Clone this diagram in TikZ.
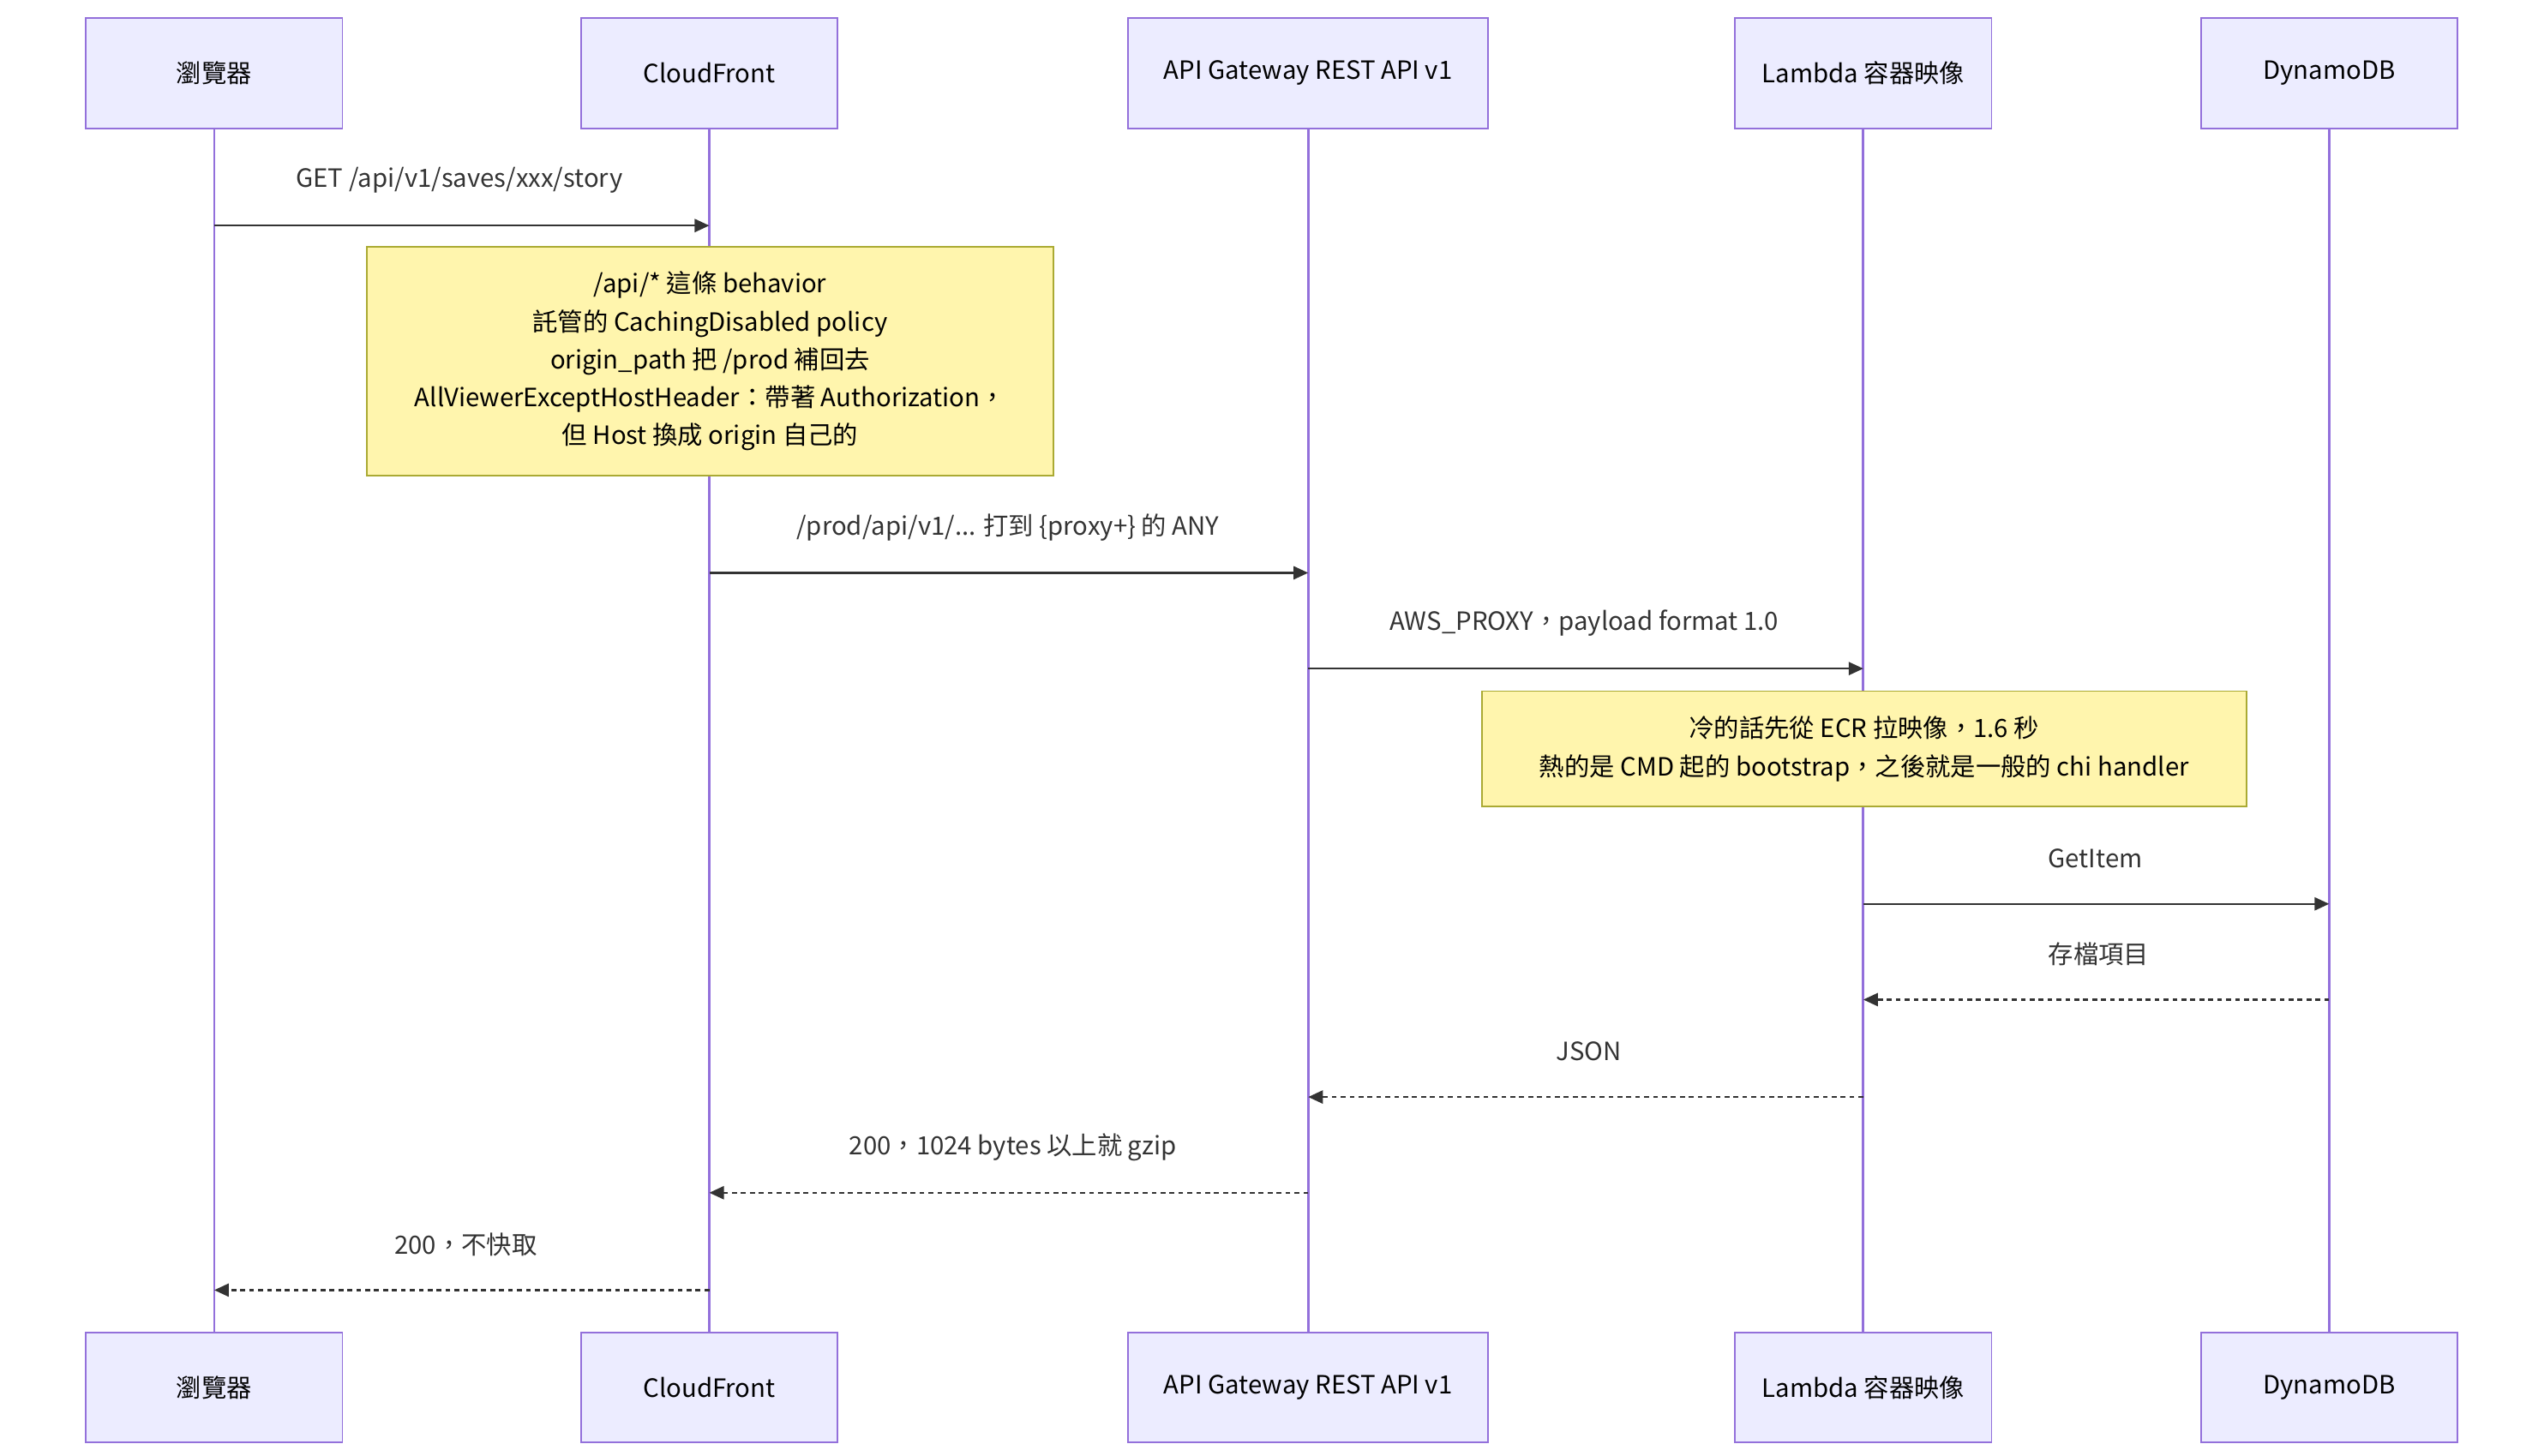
\documentclass[tikz,border=0pt]{standalone}
\usepackage{fontspec}
\setmainfont{Noto Sans CJK TC}
\usetikzlibrary{arrows.meta}
\definecolor{actfill}{HTML}{ECECFF}
\definecolor{actline}{HTML}{9370DB}
\definecolor{notefill}{HTML}{FFF5AD}
\definecolor{noteline}{HTML}{AAAA33}
\definecolor{msg}{HTML}{333333}
\tikzset{
 actor/.style={draw=actline,fill=actfill,line width=1pt,minimum height=68pt,inner sep=0pt,font=\fontsize{15.5}{18}\selectfont,text=black},
 life/.style={draw=actline,line width=1.5pt},
 note/.style={draw=noteline,fill=notefill,line width=0.8pt,inner sep=0pt,font=\fontsize{15.5}{23.3}\selectfont,align=center},
 msgline/.style={draw=msg,line width=1.3pt,-{Triangle[length=9pt,width=8pt]}},
 retline/.style={msgline,dash pattern=on 3pt off 2.5pt},
 lbl/.style={font=\fontsize{15.5}{18}\selectfont,text=msg}
}
\begin{document}
\begin{tikzpicture}[x=1pt,y=-1pt]
\useasboundingbox (0,0) rectangle (1560,897);
\foreach \n/\x/\w/\t in {A/132/158/瀏覽器,B/437/158/CloudFront,C/806/222/API Gateway REST API v1,D/1148/158/Lambda 容器映像,E/1435/158/DynamoDB}{
  \node[actor,minimum width=\w pt] (\n top) at (\x,45) {\t};
  \node[actor,minimum width=\w pt] (\n bot) at (\x,855) {\t};
  \draw[life] (\n top.south) -- (\n bot.north);
}
\foreach \n/\x in {A/132,B/437,C/806,D/1148,E/1435}{
  \foreach \y in {139,353,412,557,616,676,735,795}{
    \coordinate (\n\y) at (\x,\y);
  }
}
\draw[msgline] (A139) -- (B139);
\node[lbl] at (283,111) {GET /api/v1/saves/xxx/story};
\node[note,minimum width=423pt,minimum height=141pt] (n1) at (437.5,222.5) {/api/* 這條 behavior\\託管的 CachingDisabled policy\\origin\_path 把 /prod 補回去\\AllViewerExceptHostHeader：帶著 Authorization，\\但 Host 換成 origin 自己的};
\draw[msgline] (B353) -- (C353);
\node[lbl] at (621,325) {/prod/api/v1/... 打到 \{proxy+\} 的 ANY};
\draw[msgline] (C412) -- (D412);
\node[lbl] at (976,384) {AWS\_PROXY，payload format 1.0};
\node[note,minimum width=471pt,minimum height=71pt] (n2) at (1148.5,461.5) {冷的話先從 ECR 拉映像，1.6 秒\\熱的是 CMD 起的 bootstrap，之後就是一般的 chi handler};
\draw[msgline] (D557) -- (E557);
\node[lbl] at (1291,529) {GetItem};
\draw[retline] (E616) -- (D616);
\node[lbl] at (1293,588) {存檔項目};
\draw[retline] (D676) -- (C676);
\node[lbl] at (979,648) {JSON};
\draw[retline] (C735) -- (B735);
\node[lbl] at (624,707) {200，1024 bytes 以上就 gzip};
\draw[retline] (B795) -- (A795);
\node[lbl] at (287,767) {200，不快取};
\end{tikzpicture}
\end{document}
